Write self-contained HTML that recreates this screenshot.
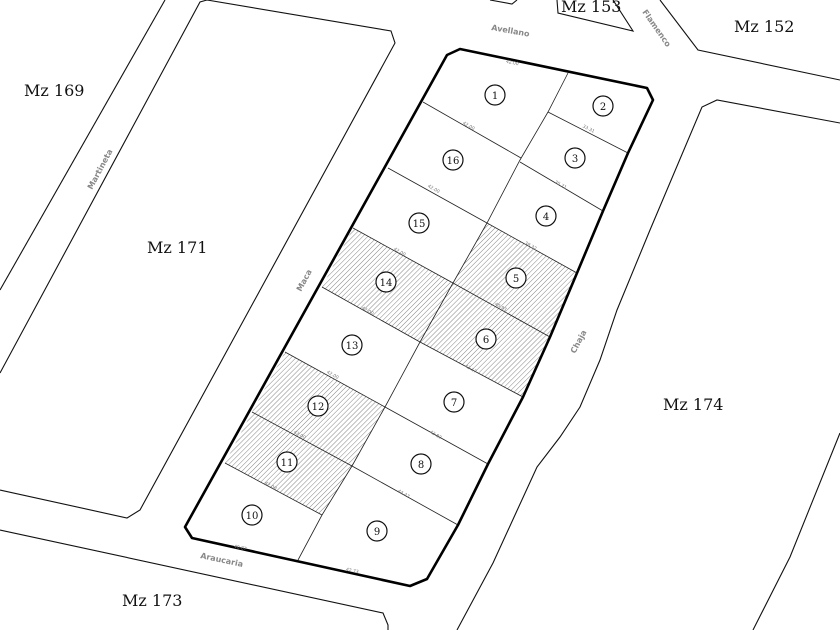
<!DOCTYPE html>
<html><head><meta charset="utf-8"><style>
html,body{margin:0;padding:0;background:#fff;width:840px;height:630px;overflow:hidden}
svg{display:block}
.mz{font-family:"DejaVu Serif","Liberation Serif",serif;font-size:16px;fill:#111}
.st{font-family:"DejaVu Sans","Liberation Sans",sans-serif;font-size:8px;font-weight:bold;fill:#888}
.n{font-family:"DejaVu Serif","Liberation Serif",serif;font-size:10px;fill:#111;text-anchor:middle}
.d{font-family:"DejaVu Sans","Liberation Sans",sans-serif;font-size:4.5px;fill:#777;text-anchor:middle}
</style></head><body>
<svg width="840" height="630" viewBox="0 0 840 630" xmlns="http://www.w3.org/2000/svg">
<defs>
<pattern id="h" patternUnits="userSpaceOnUse" width="3.5" height="3.5" patternTransform="rotate(45)">
<line x1="0" y1="0" x2="0" y2="3.5" stroke="#666" stroke-width="0.8"/>
</pattern>
</defs>
<g fill="none" stroke="#111" stroke-width="1.1">
<polyline points="165,0 0,290"/>
<polyline points="0,373 200,2 207,0 391,31 395,43 140,510 127,518 0,490"/>
<polyline points="0,530 383,613 388,625 388,630"/>
<polyline points="490,0 512,4 517,0"/>
<polyline points="557,0 558,13 633,31 613,0"/>
<polyline points="660,0 698,50 840,80"/>
<polyline points="840,123 717,100 702,107 650,230 617,310 600,360 580,407 560,437 537,467 515,515 493,563 457,630"/>
<polyline points="840,433 790,557 753,630"/>
</g>
<g fill="url(#h)" stroke="none">
<polygon points="353,228 453,283 420,342 322,287"/>
<polygon points="487,223 577,273 550,337 453,283"/>
<polygon points="453,283 550,337 523,397 420,342"/>
<polygon points="285,352 385,407 352,466 252,412"/>
<polygon points="252,412 352,466 322,515 225,463"/>
</g>
<g fill="none" stroke="#222" stroke-width="0.8">
<polyline points="568,73 548,112 520,160 487,223 453,283 420,342 385,407 352,466 322,515 298,560"/>
<line x1="423" y1="102" x2="521" y2="158"/>
<line x1="548" y1="112" x2="628" y2="153"/>
<line x1="388" y1="168" x2="487" y2="223"/>
<line x1="520" y1="162" x2="603" y2="211"/>
<line x1="353" y1="228" x2="453" y2="283"/>
<line x1="487" y1="223" x2="577" y2="273"/>
<line x1="322" y1="287" x2="420" y2="342"/>
<line x1="453" y1="283" x2="550" y2="337"/>
<line x1="285" y1="352" x2="385" y2="407"/>
<line x1="420" y1="342" x2="523" y2="397"/>
<line x1="252" y1="412" x2="352" y2="466"/>
<line x1="385" y1="407" x2="488" y2="464"/>
<line x1="225" y1="463" x2="322" y2="515"/>
<line x1="352" y1="466" x2="458" y2="525"/>
</g>
<polygon points="447,55 460,49 647,88 653,100 628,153 603,211 577,273 550,337 523,397 488,464 458,525 427,579 410,586 192,538 185,527" fill="none" stroke="#000" stroke-width="2.6" stroke-linejoin="round"/>
<g fill="#fff" stroke="#111" stroke-width="1.2">
<circle cx="495" cy="95" r="10"/><circle cx="603" cy="106" r="10"/><circle cx="575" cy="158" r="10"/><circle cx="546" cy="216" r="10"/>
<circle cx="516" cy="278" r="10"/><circle cx="486" cy="339" r="10"/><circle cx="454" cy="402" r="10"/><circle cx="421" cy="464" r="10"/>
<circle cx="377" cy="531" r="10"/><circle cx="252" cy="515" r="10"/><circle cx="287" cy="462" r="10"/><circle cx="318" cy="406" r="10"/>
<circle cx="352" cy="345" r="10"/><circle cx="386" cy="282" r="10"/><circle cx="419" cy="223" r="10"/><circle cx="453" cy="160" r="10"/>
</g>
<g class="n">
<text x="495" y="99">1</text><text x="603" y="110">2</text><text x="575" y="162">3</text><text x="546" y="220">4</text>
<text x="516" y="282">5</text><text x="486" y="343">6</text><text x="454" y="406">7</text><text x="421" y="468">8</text>
<text x="377" y="535">9</text><text x="252" y="519">10</text><text x="287" y="466">11</text><text x="318" y="410">12</text>
<text x="352" y="349">13</text><text x="386" y="286">14</text><text x="419" y="227">15</text><text x="453" y="164">16</text>
</g>
<g class="d">
<text x="512" y="64" transform="rotate(12 512 64)">42.00</text>
<text x="468" y="127" transform="rotate(29 468 127)">42.00</text>
<text x="433" y="190" transform="rotate(29 433 190)">42.00</text>
<text x="399" y="253" transform="rotate(29 399 253)">42.00</text>
<text x="367" y="312" transform="rotate(29 367 312)">42.00</text>
<text x="332" y="376" transform="rotate(29 332 376)">42.00</text>
<text x="299" y="436" transform="rotate(29 299 436)">42.00</text>
<text x="270" y="487" transform="rotate(29 270 487)">42.00</text>
<text x="588" y="130" transform="rotate(27 588 130)">33.31</text>
<text x="560" y="186" transform="rotate(29 560 186)">35.71</text>
<text x="530" y="247" transform="rotate(29 530 247)">38.32</text>
<text x="500" y="308" transform="rotate(29 500 308)">40.93</text>
<text x="470" y="370" transform="rotate(29 470 370)">43.17</text>
<text x="435" y="436" transform="rotate(29 435 436)">43.82</text>
<text x="403" y="495" transform="rotate(29 403 495)">44.47</text>
<text x="240" y="549" transform="rotate(12 240 549)">40.87</text>
<text x="352" y="572" transform="rotate(12 352 572)">42.73</text>
</g>
<text class="mz" x="24" y="96">Mz 169</text>
<text class="mz" x="147" y="253">Mz 171</text>
<text class="mz" x="663" y="410">Mz 174</text>
<text class="mz" x="122" y="606">Mz 173</text>
<text class="mz" x="734" y="32">Mz 152</text>
<text class="mz" x="561" y="12">Mz 153</text>
<text class="st" x="491" y="30" transform="rotate(10 491 30)">Avellano</text>
<text class="st" x="642" y="12" transform="rotate(55 642 12)">Flamenco</text>
<text class="st" x="92" y="190" transform="rotate(-62 92 190)">Martineta</text>
<text class="st" x="301" y="292" transform="rotate(-62 301 292)">Maca</text>
<text class="st" x="575" y="354" transform="rotate(-62 575 354)">Chaja</text>
<text class="st" x="200" y="558" transform="rotate(12 200 558)">Araucaria</text>
</svg>
</body></html>
